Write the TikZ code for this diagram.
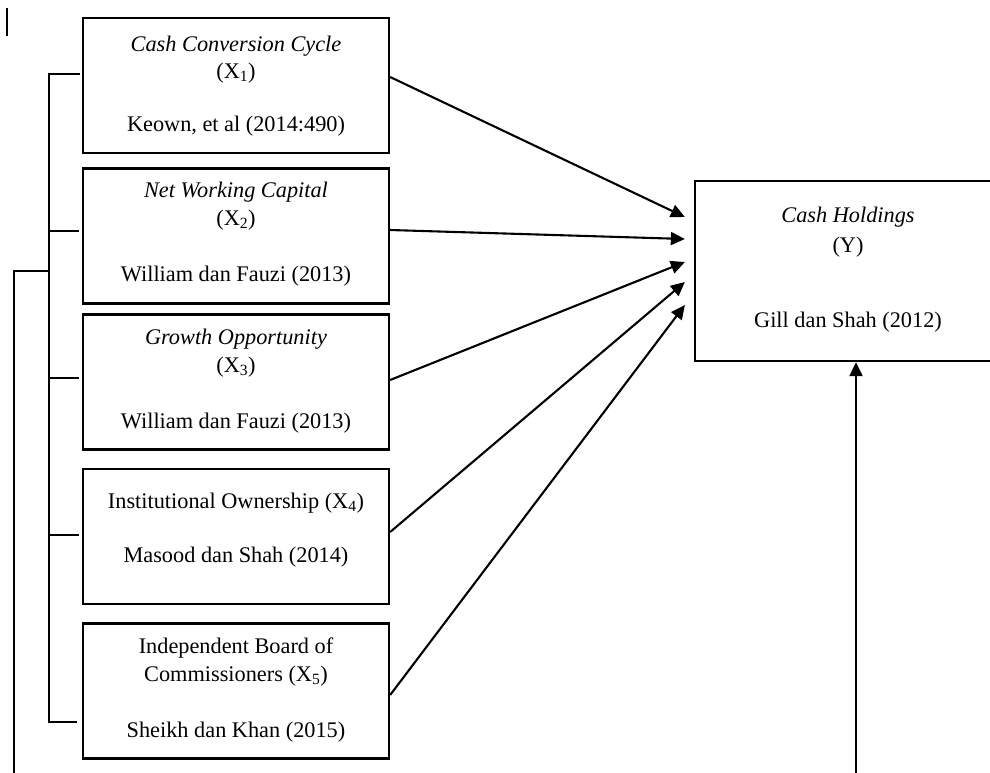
\documentclass[tikz,border=0pt]{standalone}
\usepackage{fontspec}
\setmainfont{Liberation Serif}
\usetikzlibrary{arrows.meta}
\begin{document}
\begin{tikzpicture}[x=1pt,y=-1pt,
  box/.style={draw, line width=2.3pt, minimum width=306pt, minimum height=135pt, inner sep=0pt},
  ybox/.style={draw, line width=2.3pt, minimum width=306pt, minimum height=180pt, inner sep=0pt},
  txt/.style={anchor=base, inner sep=0pt, font=\fontsize{22.3}{26}\selectfont},
  ln/.style={line width=2.1pt},
  arr/.style={line width=2.1pt, -{Triangle[length=14pt,width=13pt]}}]
\useasboundingbox (0,0) rectangle (990,772);
\clip (0,0) rectangle (990,772);

% boxes
\node[box] (b1) at (236,85.5) {};
\node[box] (b2) at (236,236) {};
\node[box] (b3) at (236,382) {};
\node[box] (b4) at (236,536.5) {};
\node[box] (b5) at (236,691) {};
\node[ybox] (yb) at (848,271) {};

% texts
\node[txt] (t1a) at (236,51) {\itshape Cash Conversion Cycle};
\node[txt] (t1b) at (236,78) {(X\textsubscript{1})};
\node[txt] (t1c) at (236,131) {Keown, et al (2014:490)};

\node[txt] (t2a) at (236,197) {\itshape Net Working Capital};
\node[txt] (t2b) at (236,225) {(X\textsubscript{2})};
\node[txt] (t2c) at (236,281) {William dan Fauzi (2013)};

\node[txt] (t3a) at (236,344) {\itshape Growth Opportunity};
\node[txt] (t3b) at (236,372) {(X\textsubscript{3})};
\node[txt] (t3c) at (236,428) {William dan Fauzi (2013)};

\node[txt] (t4a) at (236,508) {Institutional Ownership (X\textsubscript{4})};
\node[txt] (t4b) at (236,562) {Masood dan Shah (2014)};

\node[txt] (t5a) at (236,653) {Independent Board of};
\node[txt] (t5b) at (236,681) {Commissioners (X\textsubscript{5})};
\node[txt] (t5c) at (236,737) {Sheikh dan Khan (2015)};

\node[txt] (tya) at (848,222) {\itshape Cash Holdings};
\node[txt] (tyb) at (848,252) {(Y)};
\node[txt] (tyc) at (848,327) {Gill dan Shah (2012)};

% arrows to Y
\draw[arr] ([yshift=8.5pt]b1.east) -- ([xshift=-9pt,yshift=54pt]yb.west);
\draw[arr] ([yshift=6pt]b2.east) -- ([xshift=-9pt,yshift=32pt]yb.west);
\draw[arr] ([yshift=2pt]b3.east) -- ([xshift=-9pt,yshift=9pt]yb.west);
\draw[arr] ([yshift=4.5pt]b4.east) -- ([xshift=-9pt,yshift=-11pt]yb.west);
\draw[arr] ([yshift=-4pt]b5.east) -- ([xshift=-9pt,yshift=-34pt]yb.west);

% bracket on the left
\coordinate (rail) at (49,0);
\coordinate (outer) at (14,790);
\coordinate (upin) at (856,790);
\draw[ln] ([xshift=-2pt,yshift=11.5pt]b1.west) -- ([yshift=11.5pt]b1.west -| rail)
          -- ([yshift=-31pt]b5.west -| rail) -- ([xshift=-5pt,yshift=-31pt]b5.west);
\draw[ln] ([xshift=-3pt,yshift=5pt]b2.west) -- ([yshift=5pt]b2.west -| rail);
\draw[ln] ([xshift=-3pt,yshift=4pt]b3.west) -- ([yshift=4pt]b3.west -| rail);
\draw[ln] ([xshift=-3pt,yshift=1.5pt]b4.west) -- ([xshift=-1pt,yshift=1.5pt]b4.west -| rail);
\draw[ln] (outer) |- (49,271);

% line from below into Y
\draw[arr] (upin) -- (upin |- yb.south);

% stray mark top left
\draw[ln] (7,8) -- (7,36);
\end{tikzpicture}
\end{document}
